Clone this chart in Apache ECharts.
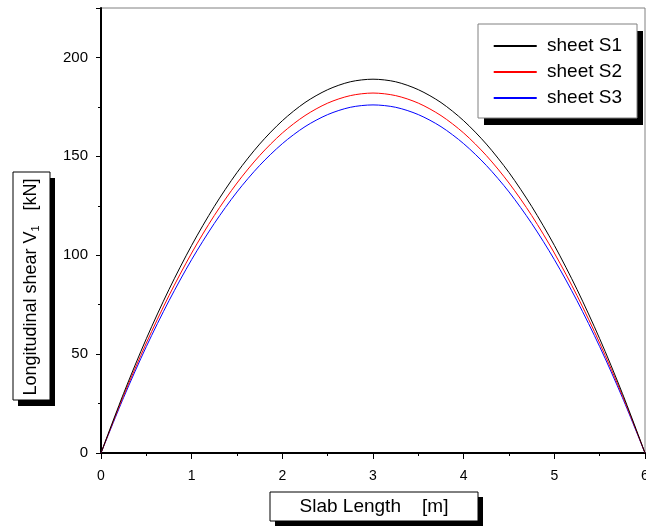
<!DOCTYPE html>
<html>
<head>
<meta charset="utf-8">
<script src="https://cdn.jsdelivr.net/npm/echarts@6/dist/echarts.min.js"></script>
<style>
  html, body { margin: 0; padding: 0; background: #fff; }
  #main { width: 646px; height: 527px; }
</style>
</head>
<body>
<div id="main"></div>
<script>
// slab length positions [m]
const slabX = [0, 0.25, 0.5, 0.75, 1, 1.25, 1.5, 1.75, 2, 2.25, 2.5, 2.75, 3,
               3.25, 3.5, 3.75, 4, 4.25, 4.5, 4.75, 5, 5.25, 5.5, 5.75, 6];
// longitudinal shear [kN]
const sheetS1 = [0, 30.2, 57.8, 82.7, 105.0, 124.7, 141.8, 156.2, 168.0, 177.2, 183.7, 187.7, 189.0,
                 187.7, 183.7, 177.2, 168.0, 156.2, 141.8, 124.7, 105.0, 82.7, 57.8, 30.2, 0];
const sheetS2 = [0, 29.1, 55.6, 79.6, 101.1, 120.1, 136.5, 150.4, 161.8, 170.6, 176.9, 180.7, 182.0,
                 180.7, 176.9, 170.6, 161.8, 150.4, 136.5, 120.1, 101.1, 79.6, 55.6, 29.1, 0];
const sheetS3 = [0, 28.1, 53.8, 77.0, 97.8, 116.1, 132.0, 145.4, 156.4, 165.0, 171.1, 174.8, 176.0,
                 174.8, 171.1, 165.0, 156.4, 145.4, 132.0, 116.1, 97.8, 77.0, 53.8, 28.1, 0];
const seriesNames = ['sheet S1', 'sheet S2', 'sheet S3'];
const seriesColors = ['#000000', '#ff0000', '#0000ff'];

const FONT = 'Arial, "Liberation Sans", sans-serif';

const pairs = ys => slabX.map((x, i) => [x, ys[i]]);

const chart = echarts.init(document.getElementById('main'));

const option = {
    animation: false,
    backgroundColor: '#ffffff',
    textStyle: { fontFamily: FONT },
    grid: {
        left: 101,
        right: 1,
        top: 8,
        bottom: 74,
        outerBoundsMode: 'none',
        show: true,
        borderColor: '#808080',
        borderWidth: 1,
        backgroundColor: 'transparent'
    },
    legend: {
        orient: 'vertical',
        right: 9,
        top: 24,
        z: 20,
        data: seriesNames.map((n, i) => ({
            name: n,
            icon: 'rect',
            itemStyle: { color: seriesColors[i], opacity: 1 }
        })),
        itemWidth: 43,
        itemHeight: 2,
        itemGap: 6,
        padding: [12, 15, 12, 15],
        formatter: name => ' ' + name,
        textStyle: { fontFamily: FONT, fontSize: 19, color: '#000', lineHeight: 20 }
    },
    xAxis: {
        type: 'value',
        min: 0,
        max: 6,
        interval: 1,
        axisLine: { onZero: false, lineStyle: { color: '#000', width: 2 } },
        axisTick: { length: 6, lineStyle: { color: '#000', width: 1 } },
        minorTick: { show: true, splitNumber: 2, length: 3, lineStyle: { color: '#000', width: 1 } },
        axisLabel: { fontFamily: FONT, fontSize: 14, color: '#000', margin: 16 },
        splitLine: { show: false },
        minorSplitLine: { show: false }
    },
    yAxis: {
        type: 'value',
        min: 0,
        max: 225,
        interval: 50,
        axisLine: { show: true, onZero: false, lineStyle: { color: '#000', width: 2 } },
        axisTick: { show: true, length: 5, lineStyle: { color: '#000', width: 1 } },
        minorTick: { show: true, splitNumber: 2, length: 3, lineStyle: { color: '#000', width: 1 } },
        axisLabel: { fontFamily: FONT, fontSize: 15, color: '#000', margin: 13, showMaxLabel: false },
        splitLine: { show: false },
        minorSplitLine: { show: false }
    },
    series: [sheetS1, sheetS2, sheetS3].map((ys, i) => ({
        name: seriesNames[i],
        type: 'line',
        data: pairs(ys),
        smooth: 0.3,
        symbol: 'none',
        color: seriesColors[i],
        lineStyle: { color: seriesColors[i], width: 1 },
        z: 3 - i
    })),
    graphic: [
        // legend frame with drop shadow
        { type: 'rect', shape: { x: 484, y: 31, width: 159, height: 94 }, style: { fill: '#000' }, z: 10 },
        { type: 'rect', shape: { x: 478, y: 24, width: 159, height: 94 }, style: { fill: '#fff', stroke: '#808080', lineWidth: 1 }, z: 11 },
        // y axis title box
        { type: 'rect', shape: { x: 18, y: 178, width: 37, height: 228 }, style: { fill: '#000' }, z: 10 },
        { type: 'rect', shape: { x: 13, y: 172, width: 37, height: 228 }, style: { fill: '#fff', stroke: '#000', lineWidth: 1 }, z: 11 },
        {
            type: 'text', x: 31, y: 287, rotation: Math.PI / 2, z: 12,
            style: {
                text: 'Longitudinal shear V{sub|1}   [kN]',
                font: '18px ' + FONT,
                fill: '#000',
                align: 'center',
                verticalAlign: 'middle',
                rich: {
                    sub: { fontSize: 11, fontFamily: FONT, fill: '#000', padding: [10, 0, 0, 0] }
                }
            }
        },
        // x axis title box
        { type: 'rect', shape: { x: 275, y: 497, width: 208, height: 29 }, style: { fill: '#000' }, z: 10 },
        { type: 'rect', shape: { x: 270, y: 492, width: 208, height: 29 }, style: { fill: '#fff', stroke: '#000', lineWidth: 1 }, z: 11 },
        {
            type: 'text', x: 374, y: 507, z: 12,
            style: {
                text: 'Slab Length    [m]',
                font: '19px ' + FONT,
                fill: '#000',
                align: 'center',
                verticalAlign: 'middle'
            }
        }
    ]
};

chart.setOption(option);
</script>
</body>
</html>
